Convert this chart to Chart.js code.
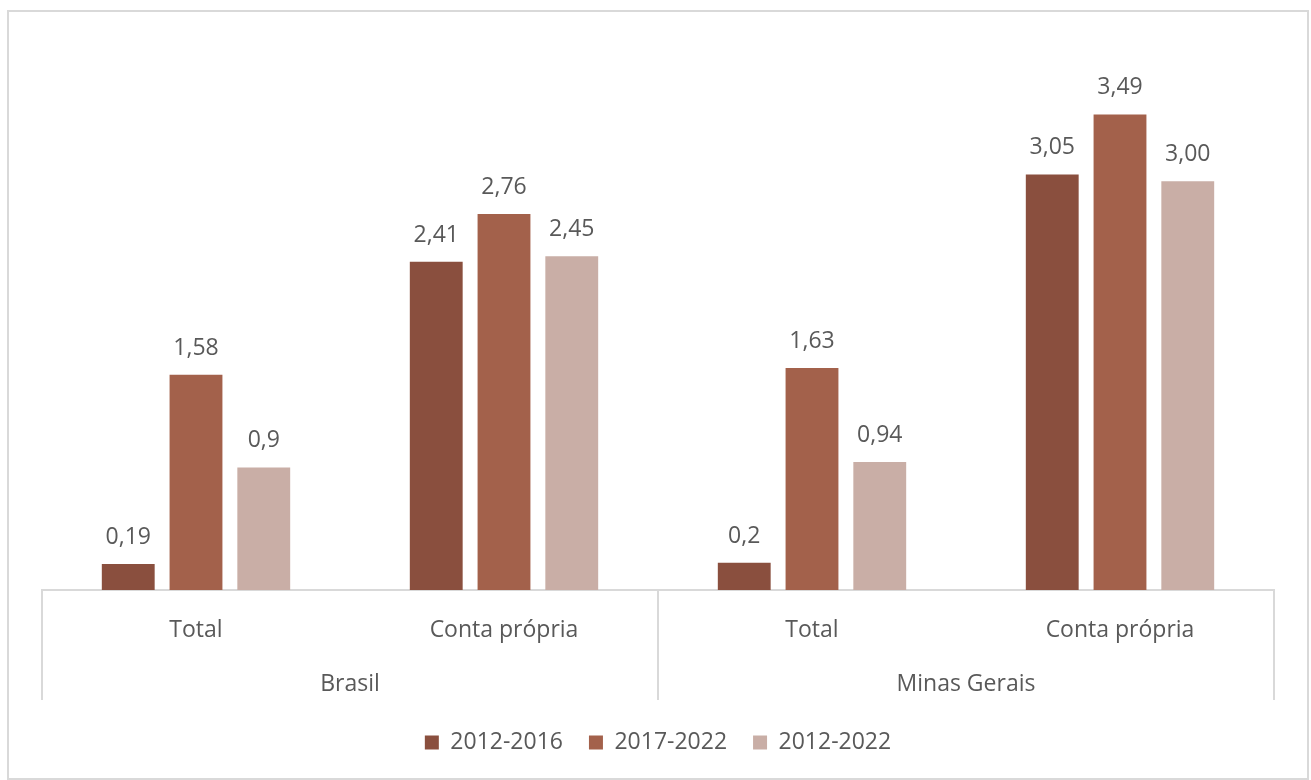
<!DOCTYPE html>
<html lang="pt">
<head>
<meta charset="utf-8">
<title>Variação por período</title>
<script src="https://cdn.jsdelivr.net/npm/chart.js@4.4.1/dist/chart.umd.min.js"></script>
<style>
  html, body { margin: 0; padding: 0; background: #fff; }
  #frame {
    position: absolute; left: 7px; top: 10px;
    width: 1302px; height: 770px;
    box-sizing: border-box;
    border: 2px solid #d9d9d9;
  }
  #chart { display: block; }
</style>
</head>
<body>
<div id="frame"><canvas id="chart" width="1298" height="766"></canvas></div>
<script>
// categorias (nível 1) e grupos (nível 2)
const categorias = ['Total', 'Conta própria', 'Total', 'Conta própria'];
const grupos = ['Brasil', 'Minas Gerais'];

const periodos = ['2012-2016', '2017-2022', '2012-2022'];
const v2012_2016 = [0.19, 2.41, 0.2, 3.05];
const v2017_2022 = [1.58, 2.76, 1.63, 3.49];
const v2012_2022 = [0.9, 2.45, 0.94, 3.00];

// rótulos como aparecem no gráfico
const rot2012_2016 = ['0,19', '2,41', '0,2', '3,05'];
const rot2017_2022 = ['1,58', '2,76', '1,63', '3,49'];
const rot2012_2022 = ['0,9', '2,45', '0,94', '3,00'];

const cores = ['#8a4f3e', '#a3614b', '#c9aea6'];
const cinza = '#595959';
const linha = '#d9d9d9';

Chart.defaults.font.family = "'Open Sans', sans-serif";
Chart.defaults.color = cinza;

// escreve o valor em cima de cada barra
const rotulosBarras = {
  id: 'rotulosBarras',
  afterDatasetsDraw(chart) {
    const ctx = chart.ctx;
    ctx.save();
    ctx.font = "23px 'Open Sans'";
    ctx.fillStyle = cinza;
    ctx.textAlign = 'center';
    ctx.textBaseline = 'alphabetic';
    chart.data.datasets.forEach((ds, i) => {
      chart.getDatasetMeta(i).data.forEach((bar, j) => {
        ctx.fillText(ds.rotulos[j], bar.x, bar.y - 20);
      });
    });
    ctx.restore();
  }
};

// segundo nível do eixo x: nomes dos grupos e linhas divisórias
const eixoGrupos = {
  id: 'eixoGrupos',
  afterDraw(chart) {
    const ctx = chart.ctx;
    const x = chart.scales.x;
    const area = chart.chartArea;
    const passo = x.getPixelForValue(1) - x.getPixelForValue(0);
    ctx.save();
    ctx.strokeStyle = linha;
    ctx.lineWidth = 2;
    const divisorias = [0, 2, 4].map(k => x.getPixelForValue(k) - passo / 2);
    divisorias.forEach(px => {
      ctx.beginPath();
      ctx.moveTo(px, area.bottom);
      ctx.lineTo(px, area.bottom + 110);
      ctx.stroke();
    });
    ctx.font = "23px 'Open Sans'";
    ctx.fillStyle = cinza;
    ctx.textAlign = 'center';
    ctx.textBaseline = 'middle';
    grupos.forEach((g, k) => {
      const cx = (x.getPixelForValue(2 * k) + x.getPixelForValue(2 * k + 1)) / 2;
      ctx.fillText(g, cx, area.bottom + 94);
    });
    ctx.restore();
  }
};

const conjuntos = [
  { label: periodos[0], data: v2012_2016, rotulos: rot2012_2016, backgroundColor: cores[0] },
  { label: periodos[1], data: v2017_2022, rotulos: rot2017_2022, backgroundColor: cores[1] },
  { label: periodos[2], data: v2012_2022, rotulos: rot2012_2022, backgroundColor: cores[2] }
].map(d => Object.assign(d, { categoryPercentage: 0.66, barPercentage: 0.78 }));

new Chart(document.getElementById('chart'), {
  type: 'bar',
  data: { labels: categorias, datasets: conjuntos },
  plugins: [rotulosBarras, eixoGrupos],
  options: {
    responsive: false,
    animation: false,
    layout: { padding: { left: 33, right: 33, top: 33, bottom: 14 } },
    scales: {
      x: {
        grid: { display: false },
        border: { display: true, color: linha, width: 2 },
        ticks: { font: { size: 23 }, color: cinza, padding: 19 },
        afterFit(s) { s.height = 115; }
      },
      y: {
        display: false,
        min: 0,
        max: 4
      }
    },
    plugins: {
      tooltip: { enabled: false },
      legend: {
        position: 'bottom',
        labels: {
          boxWidth: 14,
          boxHeight: 14,
          padding: 26,
          font: { size: 23 },
          color: cinza
        }
      }
    }
  }
});
</script>
</body>
</html>
